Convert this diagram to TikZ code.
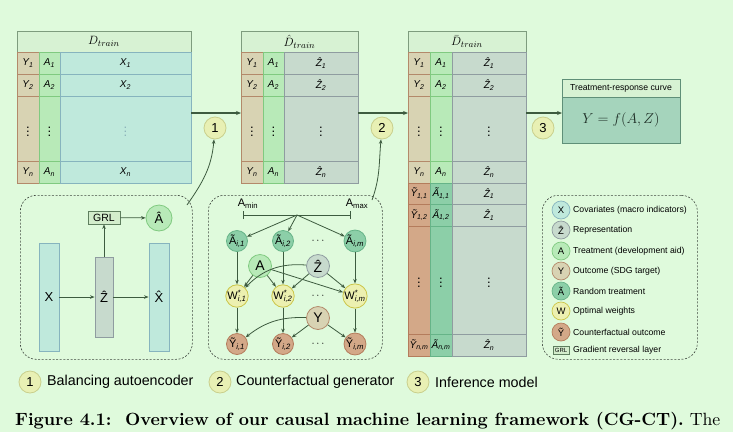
\documentclass[tikz,border=0pt]{standalone}
\usepackage{fontspec}
\setsansfont{Liberation Sans}
\usepackage{graphicx}
\usetikzlibrary{arrows.meta,calc}
\definecolor{bgc}{HTML}{DFFADC}
\definecolor{hdrfill}{HTML}{D7F2D3}
\definecolor{hdrline}{HTML}{7E9C7E}
\definecolor{yfill}{HTML}{D8D3B3}
\definecolor{yline}{HTML}{B3896A}
\definecolor{afill}{HTML}{B8EAB8}
\definecolor{aline}{HTML}{80CA80}
\definecolor{xfill}{HTML}{BFE9DC}
\definecolor{xline}{HTML}{86B4BE}
\definecolor{zfill}{HTML}{C7DACD}
\definecolor{zline}{HTML}{8F9CA0}
\definecolor{ytfill}{HTML}{D3A888}
\definecolor{ytline}{HTML}{B47C5C}
\definecolor{atfill}{HTML}{8CCFA8}
\definecolor{atline}{HTML}{66B488}
\definecolor{trcfill}{HTML}{A5D4BC}
\definecolor{trcline}{HTML}{5F8F78}
\definecolor{numfill}{HTML}{E8F0B4}
\definecolor{numline}{HTML}{C9CF8C}
\definecolor{wfill}{HTML}{ECF0B0}
\definecolor{wline}{HTML}{CBC548}
\definecolor{arrowc}{HTML}{3D5B3F}
\definecolor{dashc}{HTML}{404840}
\definecolor{grlfill}{HTML}{D3EDCC}
\definecolor{grlline}{HTML}{5F7F5F}
\definecolor{dotx}{HTML}{8AB0B8}
\definecolor{trctext}{HTML}{1E2E26}
\newcommand\cellfnt{\sffamily\itshape\fontsize{10}{12}\selectfont}
\newcommand\tcell[7]{\node[tc,#6,minimum width=#4pt,minimum height=#5pt] (#1) at (#2,#3) {#7};}
\newcommand\vd{\upshape\fontsize{13}{13}\selectfont$\vdots$}
\newcommand\trcfont{\fontsize{14.5}{14.5}\selectfont}
\tikzset{
  tc/.style={inner sep=0pt,outer sep=0pt,line width=0.9pt,anchor=north west,font=\cellfnt},
  hdr/.style={fill=hdrfill,draw=hdrline,font=\fontsize{13}{13}\selectfont},
  ycell/.style={fill=yfill,draw=yline},
  acell/.style={fill=afill,draw=aline},
  xcell/.style={fill=xfill,draw=xline},
  zcell/.style={fill=zfill,draw=zline},
  ytcell/.style={fill=ytfill,draw=ytline},
  atcell/.style={fill=atfill,draw=atline},
  flow/.style={draw=arrowc,line width=1.2pt,-{Stealth[length=5pt,width=4pt]}},
  link/.style={draw=arrowc,line width=0.8pt,-{Stealth[length=4.5pt,width=3.5pt]}},
  dbox/.style={draw=dashc,dash pattern=on 2pt off 1.6pt,line width=0.6pt,rounded corners=16pt,inner sep=0pt,anchor=north west},
  numc/.style={circle,fill=numfill,draw=numline,line width=0.8pt,minimum size=22pt,inner sep=0pt,font=\sffamily\fontsize{13}{13}\selectfont},
  gnode/.style={circle,line width=0.8pt,minimum size=21pt,inner sep=0pt,font=\sffamily\fontsize{11}{11}\selectfont},
  bignode/.style={gnode,minimum size=23pt,font=\sffamily\fontsize{14}{14}\selectfont},
  legc/.style={circle,line width=0.7pt,minimum size=18pt,inner sep=0pt,font=\sffamily\fontsize{9.5}{9.5}\selectfont},
  legt/.style={anchor=west,inner sep=0pt,font=\sffamily\fontsize{8.7}{10}\selectfont},
  bar/.style={line width=0.9pt,inner sep=0pt,font=\sffamily\fontsize{13}{13}\selectfont},
  dotsn/.style={inner sep=0pt,font=\fontsize{11}{11}\selectfont},
}
\begin{document}
\begin{tikzpicture}[x=1pt,y=-1pt]
\fill[bgc] (0,0) rectangle (733,432);
\useasboundingbox (0,0) rectangle (733,432);

% ---------------- Table 1
\tcell{t1h}{17}{31}{174}{21}{hdr}{$D_{train}$}
\tcell{t1y1}{17}{52}{22}{22}{ycell}{Y\textsubscript{1}}
\tcell{t1a1}{39}{52}{21}{22}{acell}{A\textsubscript{1}}
\tcell{t1x1}{60}{52}{131}{22}{xcell}{X\textsubscript{1}}
\tcell{t1y2}{17}{74}{22}{22}{ycell}{Y\textsubscript{2}}
\tcell{t1a2}{39}{74}{21}{22}{acell}{A\textsubscript{2}}
\tcell{t1x2}{60}{74}{131}{22}{xcell}{X\textsubscript{2}}
\tcell{t1yd}{17}{96}{22}{65}{ycell}{\vd}
\tcell{t1ad}{39}{96}{21}{65}{acell}{\vd}
\tcell{t1xd}{60}{96}{131}{65}{xcell}{\color{dotx}\vd}
\tcell{t1yn}{17}{161}{22}{22}{ycell}{Y\textsubscript{n}}
\tcell{t1an}{39}{161}{21}{22}{acell}{A\textsubscript{n}}
\tcell{t1xn}{60}{161}{131}{22}{xcell}{X\textsubscript{n}}

% ---------------- Table 2
\tcell{t2h}{241}{31}{117}{21}{hdr}{$\hat{D}_{train}$}
\tcell{t2y1}{241}{52}{22}{22}{ycell}{Y\textsubscript{1}}
\tcell{t2a1}{263}{52}{21}{22}{acell}{A\textsubscript{1}}
\tcell{t2z1}{284}{52}{74}{22}{zcell}{\^Z\textsubscript{1}}
\tcell{t2y2}{241}{74}{22}{22}{ycell}{Y\textsubscript{2}}
\tcell{t2a2}{263}{74}{21}{22}{acell}{A\textsubscript{2}}
\tcell{t2z2}{284}{74}{74}{22}{zcell}{\^Z\textsubscript{2}}
\tcell{t2yd}{241}{96}{22}{65}{ycell}{\vd}
\tcell{t2ad}{263}{96}{21}{65}{acell}{\vd}
\tcell{t2zd}{284}{96}{74}{65}{zcell}{\vd}
\tcell{t2yn}{241}{161}{22}{22}{ycell}{Y\textsubscript{n}}
\tcell{t2an}{263}{161}{21}{22}{acell}{A\textsubscript{n}}
\tcell{t2zn}{284}{161}{74}{22}{zcell}{\^Z\textsubscript{n}}

% ---------------- Table 3
\tcell{t3h}{408}{31}{118}{21}{hdr}{$\bar{D}_{train}$}
\tcell{t3y1}{408}{52}{22}{22}{ycell}{Y\textsubscript{1}}
\tcell{t3a1}{430}{52}{22}{22}{acell}{A\textsubscript{1}}
\tcell{t3z1}{452}{52}{74}{22}{zcell}{\^Z\textsubscript{1}}
\tcell{t3y2}{408}{74}{22}{22}{ycell}{Y\textsubscript{2}}
\tcell{t3a2}{430}{74}{22}{22}{acell}{A\textsubscript{2}}
\tcell{t3z2}{452}{74}{74}{22}{zcell}{\^Z\textsubscript{2}}
\tcell{t3yd}{408}{96}{22}{65}{ycell}{\vd}
\tcell{t3ad}{430}{96}{22}{65}{acell}{\vd}
\tcell{t3zd}{452}{96}{74}{65}{zcell}{\vd}
\tcell{t3yn}{408}{161}{22}{22}{ycell}{Y\textsubscript{n}}
\tcell{t3an}{430}{161}{22}{22}{acell}{A\textsubscript{n}}
\tcell{t3zn}{452}{161}{74}{22}{zcell}{\^Z\textsubscript{n}}
\tcell{t3yt1}{408}{183}{22}{21}{ytcell}{\~Y\textsubscript{1,1}}
\tcell{t3at1}{430}{183}{22}{21}{atcell}{\~A\textsubscript{1,1}}
\tcell{t3zt1}{452}{183}{74}{21}{zcell}{\^Z\textsubscript{1}}
\tcell{t3yt2}{408}{204}{22}{22}{ytcell}{\~Y\textsubscript{1,2}}
\tcell{t3at2}{430}{204}{22}{22}{atcell}{\~A\textsubscript{1,2}}
\tcell{t3zt2}{452}{204}{74}{22}{zcell}{\^Z\textsubscript{1}}
\tcell{t3ytd}{408}{226}{22}{108}{ytcell}{\vd}
\tcell{t3atd}{430}{226}{22}{108}{atcell}{\vd}
\tcell{t3ztd}{452}{226}{74}{108}{zcell}{\vd}
\tcell{t3ytn}{408}{334}{22}{22}{ytcell}{\~Y\textsubscript{n,m}}
\tcell{t3atn}{430}{334}{22}{22}{atcell}{\~A\textsubscript{n,m}}
\tcell{t3ztn}{452}{334}{74}{22}{zcell}{\^Z\textsubscript{n}}

% ---------------- Treatment-response curve
\node[tc,fill=hdrfill,draw=trcline,minimum width=118pt,minimum height=18pt,font=\sffamily\fontsize{8.7}{10}\selectfont] (trh) at (562,79) {Treatment-response curve};
\node[tc,fill=trcfill,draw=trcline,minimum width=118pt,minimum height=46pt,font=\trcfont,text=trctext] (trb) at (562,97) {$Y=f(A,Z)$};

% ---------------- flow arrows and numbers
\coordinate (f1s) at (191,113); \coordinate (f1e) at (241,113);
\coordinate (f2s) at (358,113); \coordinate (f2e) at (408,113);
\coordinate (f3s) at (526,113); \coordinate (f3e) at (562,113);
\draw[flow] (f1s) -- (f1e);
\draw[flow] (f2s) -- (f2e);
\draw[flow] (f3s) -- (f3e);
\node[numc] (n1) at (215,128) {1};
\node[numc] (n2) at (382,128) {2};
\node[numc] (n3) at (543,128) {3};

% ---------------- dashed boxes
\node[dbox,minimum width=172pt,minimum height=164pt] (box1) at (20,195) {};
\node[dbox,minimum width=174pt,minimum height=164pt] (box2) at (208,195) {};
\node[dbox,minimum width=155pt,minimum height=164pt] (box3) at (542,195) {};
\coordinate (b1c) at (187,205);
\coordinate (b2c) at (372,200);
\draw[link] (b1c) to[out=55,in=-95] (n1);
\draw[link] (b2c) to[out=70,in=-95] (n2);

% ---------------- autoencoder
\node[bar,fill=xfill,draw=xline,minimum width=20pt,minimum height=108pt] (xbar) at (49,297) {X};
\node[bar,fill=zfill,draw=zline,minimum width=18pt,minimum height=80pt] (zbar) at (104,297) {\^Z};
\node[bar,fill=xfill,draw=xline,minimum width=20pt,minimum height=108pt] (xhbar) at (159,297) {\^X};
\node[fill=grlfill,draw=grlline,line width=0.8pt,minimum width=32pt,minimum height=13pt,inner sep=0pt,font=\sffamily\fontsize{10.5}{10.5}\selectfont] (grl) at (104,217.5) {GRL};
\node[circle,fill=afill,draw=aline,line width=0.8pt,minimum size=26pt,inner sep=0pt,font=\sffamily\fontsize{13}{13}\selectfont] (ahat) at (159,218) {\^A};
\draw[link] (xbar) -- (zbar);
\draw[link] (zbar) -- (xhbar);
\draw[link] (zbar) -- (grl);
\draw[link] (grl) -- (ahat);

% ---------------- counterfactual generator
\node[inner sep=0pt,font=\sffamily\fontsize{11}{11}\selectfont] (lmin) at (248,204) {A\textsubscript{min}};
\node[inner sep=0pt,font=\sffamily\fontsize{11}{11}\selectfont] (lmax) at (357,204) {A\textsubscript{max}};
\coordinate (amin) at (243,215);
\coordinate (amax) at (351,215);
\coordinate (amid) at (297,215);
\draw[draw=arrowc,line width=0.9pt,{Bar[width=8pt]}-{Bar[width=8pt]}] (amin) -- (amax);
\node[gnode,fill=atfill,draw=atline] (at1) at (237,241) {\~A\textsubscript{\itshape i,1}};
\node[gnode,fill=atfill,draw=atline] (at2) at (283,241) {\~A\textsubscript{\itshape i,2}};
\node[gnode,fill=atfill,draw=atline] (atm) at (355,241) {\~A\textsubscript{\itshape i,m}};
\node[dotsn] (d1) at (318,241) {$\cdots$};
\node[bignode,fill=afill,draw=aline] (anode) at (260,266) {A};
\node[bignode,fill=zfill,draw=zline] (znode) at (318,266) {\^Z};
\node[gnode,fill=wfill,draw=wline] (w1) at (237,296) {W\rlap{\textsuperscript{*}}\textsubscript{\itshape i,1}};
\node[gnode,fill=wfill,draw=wline] (w2) at (283,296) {W\rlap{\textsuperscript{*}}\textsubscript{\itshape i,2}};
\node[gnode,fill=wfill,draw=wline] (wm) at (355,296) {W\rlap{\textsuperscript{*}}\textsubscript{\itshape i,m}};
\node[dotsn] (d2) at (318,296) {$\cdots$};
\node[bignode,fill=yfill,draw=yline] (ynode) at (318,318) {Y};
\node[gnode,fill=ytfill,draw=ytline] (yt1) at (237,344) {\~Y\textsubscript{\itshape i,1}};
\node[gnode,fill=ytfill,draw=ytline] (yt2) at (283,344) {\~Y\textsubscript{\itshape i,2}};
\node[gnode,fill=ytfill,draw=ytline] (ytm) at (355,344) {\~Y\textsubscript{\itshape i,m}};
\node[dotsn] (d3) at (318,344) {$\cdots$};
\draw[link] (amid) -- (at1);
\draw[link] (amid) -- (at2);
\draw[link] (amid) -- (atm);
\draw[link] (at1) -- (w1);
\draw[link] (at2) -- (w2);
\draw[link] (atm) -- (wm);
\draw[link] (w1) -- (yt1);
\draw[link] (w2) -- (yt2);
\draw[link] (wm) -- (ytm);
\draw[link] (anode) -- (w1);
\draw[link] (anode) -- (w2);
\draw[link] (anode) -- (wm);
\draw[link] (znode) to[bend right=25] (w1);
\draw[link] (znode) -- (w2);
\draw[link] (znode) -- (wm);
\draw[link] (ynode) to[bend right=20] (yt1);
\draw[link] (ynode) -- (yt2);
\draw[link] (ynode) -- (ytm);

% ---------------- legend
\node[legc,fill=xfill,draw=xline] (lx) at (561,210) {X};
\node[legt] (lxt) at (573,210) {Covariates (macro indicators)};
\node[legc,fill=zfill,draw=zline] (lz) at (561,230) {\^Z};
\node[legt] (lzt) at (573,230) {Representation};
\node[legc,fill=afill,draw=aline] (la) at (561,251) {A};
\node[legt] (lat) at (573,251) {Treatment (development aid)};
\node[legc,fill=yfill,draw=yline] (ly) at (561,271) {Y};
\node[legt] (lyt) at (573,271) {Outcome (SDG target)};
\node[legc,fill=atfill,draw=atline] (lat2) at (561,291) {\~A};
\node[legt] (latt) at (573,291) {Random treatment};
\node[legc,fill=wfill,draw=wline] (lw) at (561,311) {W};
\node[legt] (lwt) at (573,311) {Optimal weights};
\node[legc,fill=ytfill,draw=ytline] (lyt2) at (561,332) {\~Y};
\node[legt] (lytt) at (573,332) {Counterfactual outcome};
\node[fill=grlfill,draw=grlline,line width=0.6pt,minimum width=16pt,minimum height=8pt,inner sep=0.5pt,font=\sffamily\fontsize{6}{6}\selectfont] (lg) at (561,350) {GRL};
\node[legt] (lgt) at (573,350) {Gradient reversal layer};

% ---------------- bottom labels
\node[numc] (k1) at (30,382) {1};
\node[anchor=west,inner sep=0pt,font=\sffamily\fontsize{14.3}{16}\selectfont] (k1t) at (47,382) {Balancing autoencoder};
\node[numc] (k2) at (220,382) {2};
\node[anchor=west,inner sep=0pt,font=\sffamily\fontsize{14.3}{16}\selectfont] (k2t) at (236,382) {Counterfactual generator};
\node[numc] (k3) at (418,382) {3};
\node[anchor=west,inner sep=0pt,font=\sffamily\fontsize{14.3}{16}\selectfont] (k3t) at (435,382) {Inference model};

% ---------------- caption
\node[anchor=west,inner sep=0pt] (cap) at (15,421) {\resizebox{705pt}{!}{\rmfamily\bfseries Figure 4.1:\ \ Overview of our causal machine learning framework (CG-CT).\mdseries\ The}};
\end{tikzpicture}
\end{document}
